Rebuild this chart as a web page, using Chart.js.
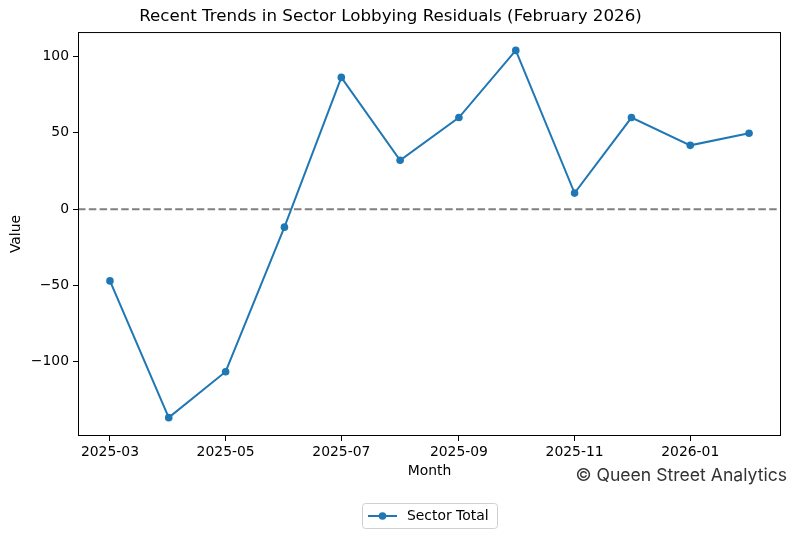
<!DOCTYPE html>
<html>
<head>
<meta charset="utf-8">
<script src="https://cdn.jsdelivr.net/npm/chart.js@4"></script>
<style>
  html, body { margin: 0; padding: 0; background: #fff; }
  #wrap { width: 796px; height: 539px; position: relative; }
</style>
</head>
<body>
<div id="wrap"><canvas id="chart"></canvas></div>
<script>
// --- データ ---
const months = ['2025-03', '2025-04', '2025-05', '2025-06', '2025-07', '2025-08',
                '2025-09', '2025-10', '2025-11', '2025-12', '2026-01', '2026-02'];
const sectorTotal = [-47, -136.6, -106.5, -11.8, 86.3, 32, 60, 104, 10.5, 60, 41.8, 49.7];
const xTickLabels = ['2025-03', '2025-05', '2025-07', '2025-09', '2025-11', '2026-01'];
const yTicks = [-100, -50, 0, 50, 100];

// 月ラベル -> 日数 (matplotlib の日付軸と同じく日単位)
const toDay = (s) => {
    const [y, m] = s.split('-').map(Number);
    return Date.UTC(y, m - 1, 1) / 86400000;
};
const dayToLabel = (d) => {
    const dt = new Date(Math.round(d) * 86400000);
    return dt.getUTCFullYear() + '-' + String(dt.getUTCMonth() + 1).padStart(2, '0');
};

const xDays = months.map(toDay);
const xSpan = xDays[xDays.length - 1] - xDays[0];
const yMin = Math.min(...sectorTotal), yMax = Math.max(...sectorTotal);
const ySpan = yMax - yMin;

const FONT = 'DejaVu Sans';
const FS = 13.9;
const BLUE = '#1f77b4';

// --- 枠線・ゼロ線・凡例・透かし ---
const decorPlugin = {
    id: 'decor',
    beforeDatasetsDraw(chart) {
        const { ctx, chartArea: a, scales: { y } } = chart;
        const y0 = y.getPixelForValue(0);
        ctx.save();
        ctx.strokeStyle = '#808080';
        ctx.lineWidth = 2;
        ctx.setLineDash([7.5, 3.3]);
        ctx.beginPath();
        ctx.moveTo(a.left, y0);
        ctx.lineTo(a.right, y0);
        ctx.stroke();
        ctx.restore();
    },
    afterDraw(chart) {
        const { ctx, chartArea: a } = chart;
        ctx.save();
        // 枠
        ctx.strokeStyle = '#000';
        ctx.lineWidth = 1;
        ctx.strokeRect(a.left + 0.5, a.top + 0.5, a.right - a.left - 1, a.bottom - a.top - 1);

        // x 軸タイトル
        ctx.fillStyle = '#000';
        ctx.font = FS + 'px "' + FONT + '"';
        ctx.textAlign = 'center';
        ctx.textBaseline = 'middle';
        ctx.fillText('Month', (a.left + a.right) / 2, 471);

        // 透かし
        ctx.fillStyle = '#333';
        ctx.font = '17.6px Inter';
        ctx.textAlign = 'right';
        ctx.fillText('\u00a9 Queen Street Analytics', 787, 476);

        // 凡例
        const bx = 362.5, by = 503.5, bw = 135, bh = 25;
        ctx.strokeStyle = '#d0d0d0';
        ctx.lineWidth = 1;
        ctx.beginPath();
        ctx.roundRect(bx, by, bw, bh, 3);
        ctx.fillStyle = '#fff';
        ctx.fill();
        ctx.stroke();
        const ly = by + bh / 2;
        ctx.strokeStyle = BLUE;
        ctx.lineWidth = 2;
        ctx.beginPath();
        ctx.moveTo(368, ly);
        ctx.lineTo(397, ly);
        ctx.stroke();
        ctx.fillStyle = BLUE;
        ctx.beginPath();
        ctx.arc(382.5, ly, 3.8, 0, Math.PI * 2);
        ctx.fill();
        ctx.fillStyle = '#000';
        ctx.font = FS + 'px "' + FONT + '"';
        ctx.textAlign = 'left';
        ctx.fillText(chart.data.datasets[0].label, 407, ly + 0.5);
        ctx.restore();
    }
};

new Chart(document.getElementById('chart'), {
    type: 'line',
    data: {
        datasets: [{
            label: 'Sector Total',
            data: xDays.map((d, i) => ({ x: d, y: sectorTotal[i] })),
            borderColor: BLUE,
            backgroundColor: BLUE,
            borderWidth: 2,
            pointRadius: 3.8,
            pointBorderWidth: 0,
            pointBackgroundColor: BLUE,
            tension: 0
        }]
    },
    options: {
        responsive: true,
        maintainAspectRatio: false,
        animation: false,
        layout: { padding: { top: 0, right: 15, bottom: 0, left: 0 } },
        plugins: {
            legend: { display: false },
            tooltip: { enabled: false },
            title: {
                display: true,
                text: 'Recent Trends in Sector Lobbying Residuals (February 2026)',
                color: '#000',
                font: { family: FONT, size: 16.7, weight: 'normal' },
                padding: { top: 7, bottom: 5 }
            }
        },
        scales: {
            x: {
                type: 'linear',
                min: xDays[0] - xSpan * 0.05,
                max: xDays[xDays.length - 1] + xSpan * 0.05,
                afterBuildTicks: (s) => { s.ticks = xTickLabels.map(l => ({ value: toDay(l) })); },
                afterFit: (s) => { s.height = 103; },
                grid: { drawOnChartArea: false, drawTicks: true, tickLength: 5, color: '#000' },
                border: { display: false },
                ticks: {
                    color: '#000',
                    font: { family: FONT, size: FS },
                    padding: 3,
                    maxRotation: 0,
                    autoSkip: false,
                    callback: (v) => dayToLabel(v)
                }
            },
            y: {
                min: yMin - ySpan * 0.05,
                max: yMax + ySpan * 0.05,
                afterBuildTicks: (s) => { s.ticks = yTicks.map(v => ({ value: v })); },
                afterFit: (s) => { s.width = 78; },
                grid: { drawOnChartArea: false, drawTicks: true, tickLength: 5, color: '#000' },
                border: { display: false },
                title: {
                    display: true,
                    text: 'Value',
                    color: '#000',
                    font: { family: FONT, size: FS },
                    padding: { top: 8, bottom: 0 }
                },
                ticks: {
                    color: '#000',
                    font: { family: FONT, size: FS },
                    padding: 4,
                    callback: (v) => (v < 0 ? '\u2212' + Math.abs(v) : String(v))
                }
            }
        }
    },
    plugins: [decorPlugin]
});
</script>
</body>
</html>
